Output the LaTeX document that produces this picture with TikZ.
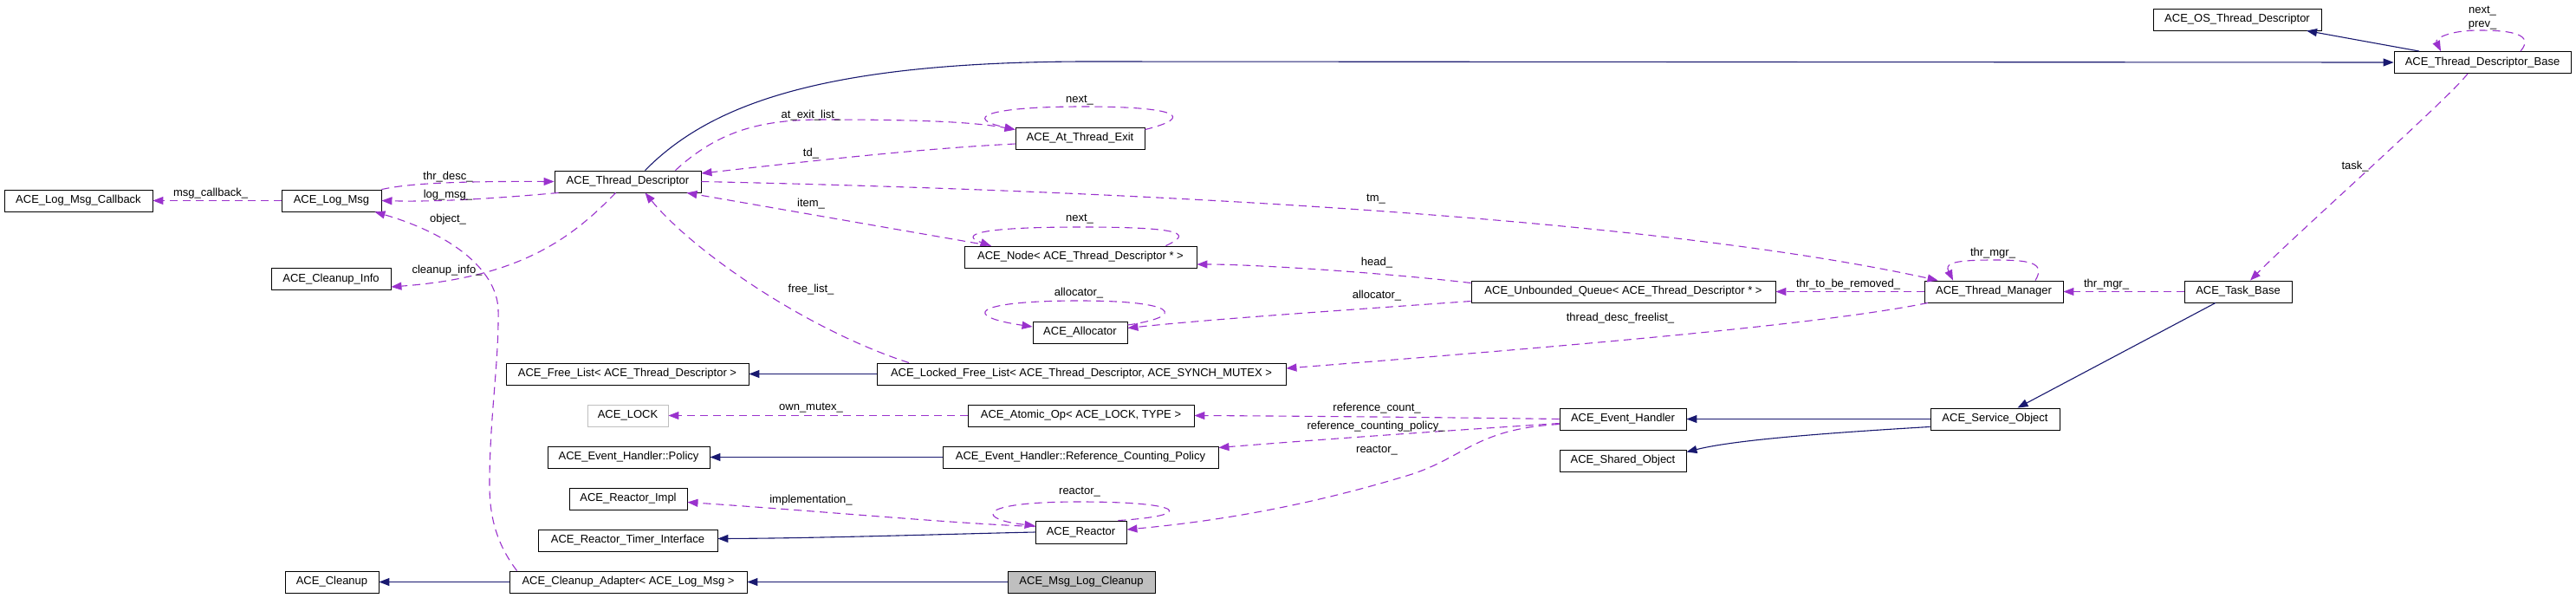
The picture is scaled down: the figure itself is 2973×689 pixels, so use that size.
\documentclass[tikz,border=0pt]{standalone}
\usepackage{fontspec}
\setmainfont{Liberation Sans}
\usetikzlibrary{arrows.meta}
\definecolor{usecol}{RGB}{154,50,205}
\definecolor{inhcol}{RGB}{25,25,112}
\definecolor{grayc}{RGB}{191,191,191}
\newcommand{\dfont}{\fontsize{13}{15}\selectfont}
\begin{document}
\begin{tikzpicture}[x=1pt,y=-1pt,
 cbox/.style={draw=black, line width=0.9pt, minimum height=25pt, inner sep=0pt, font=\dfont},
 lbl/.style={font=\dfont, inner sep=0pt},
 inher/.style={draw=inhcol, line width=1.1pt, -{Triangle[length=12pt,width=9pt]}},
 usage/.style={draw=usecol, line width=1.1pt, dash pattern=on 9pt off 6pt, -{Triangle[length=12pt,width=9pt]}},
]
\fill[white] (0,0) rectangle (2973,689);
\useasboundingbox (0,0) rectangle (2973,689);

% nodes
\node[cbox, minimum width=171pt] (cb) at (90.5,231.5) {ACE\_Log\_Msg\_Callback};
\node[cbox, minimum width=115pt] (lm) at (382.5,231.5) {ACE\_Log\_Msg};
\node[cbox, minimum width=138pt] (ci) at (382,322) {ACE\_Cleanup\_Info};
\node[cbox, minimum width=108pt] (cleanup) at (383,671.5) {ACE\_Cleanup};
\node[cbox, minimum width=169pt] (td) at (724.5,209.5) {ACE\_Thread\_Descriptor};
\node[cbox, minimum width=280pt] (fl) at (724,431.5) {ACE\_Free\_List< ACE\_Thread\_Descriptor >};
\node[cbox, minimum width=93pt, draw=grayc] (lock) at (724.5,479.5) {ACE\_LOCK};
\node[cbox, minimum width=187pt] (pol) at (725.5,527.5) {ACE\_Event\_Handler::Policy};
\node[cbox, minimum width=136pt] (rimpl) at (725,575.5) {ACE\_Reactor\_Impl};
\node[cbox, minimum width=207pt] (rti) at (724.5,623.5) {ACE\_Reactor\_Timer\_Interface};
\node[cbox, minimum width=274pt] (cadapt) at (725,671.5) {ACE\_Cleanup\_Adapter< ACE\_Log\_Msg >};
\node[cbox, minimum width=149pt] (ate) at (1246.5,159.5) {ACE\_At\_Thread\_Exit};
\node[cbox, minimum width=268pt] (node) at (1247,296.5) {ACE\_Node< ACE\_Thread\_Descriptor * >};
\node[cbox, minimum width=109pt] (alloc) at (1246.5,383.5) {ACE\_Allocator};
\node[cbox, minimum width=472pt] (lfl) at (1248,431.5) {ACE\_Locked\_Free\_List< ACE\_Thread\_Descriptor, ACE\_SYNCH\_MUTEX >};
\node[cbox, minimum width=261pt] (aop) at (1247.5,479.5) {ACE\_Atomic\_Op< ACE\_LOCK, TYPE >};
\node[cbox, minimum width=318pt] (rcp) at (1247,527.5) {ACE\_Event\_Handler::Reference\_Counting\_Policy};
\node[cbox, minimum width=105pt, minimum height=26pt] (reactor) at (1247.5,614) {ACE\_Reactor};
\node[cbox, minimum width=170pt, fill=grayc] (mlc) at (1248,671.5) {ACE\_Msg\_Log\_Cleanup};
\node[cbox, minimum width=351pt] (uq) at (1873.5,336.5) {ACE\_Unbounded\_Queue< ACE\_Thread\_Descriptor * >};
\node[cbox, minimum width=146pt] (eh) at (1873,483.5) {ACE\_Event\_Handler};
\node[cbox, minimum width=146pt] (shared) at (1873,531.5) {ACE\_Shared\_Object};
\node[cbox, minimum width=160pt] (tm) at (2301,336.5) {ACE\_Thread\_Manager};
\node[cbox, minimum width=149pt] (svc) at (2302.5,483.5) {ACE\_Service\_Object};
\node[cbox, minimum width=124pt] (tb) at (2583,336.5) {ACE\_Task\_Base};
\node[cbox, minimum width=194pt] (ostd) at (2582,22.5) {ACE\_OS\_Thread\_Descriptor};
\node[cbox, minimum width=204pt] (tdb) at (2865,72) {ACE\_Thread\_Descriptor\_Base};

% inheritance
\draw[inher] (mlc.west) -- (cadapt.east);
\draw[inher] (cadapt.west) -- (cleanup.east);
\draw[inher] (reactor.west) .. controls (1100,616) and (950,621) .. ([yshift=2pt]rti.east);
\draw[inher] (rcp.west) -- (pol.east);
\draw[inher] (lfl.west) -- (fl.east);
\draw[inher] (svc.west) -- (eh.east);
\draw[inher] ([yshift=4pt]svc.south west) .. controls (2100,500) and (2000,508) .. ([yshift=10pt]shared.east);
\draw[inher] ([xshift=-26pt]tb.south) -- ([xshift=26pt]svc.north);
\draw[inher] ([xshift=20pt]td.north) .. controls (820,120) and (950,72) .. (1250,71) -- (tdb.west);
\draw[inher] ([xshift=-73pt]tdb.north) -- ([xshift=80pt]ostd.south);

% usage
\draw[usage] (lm.west) -- (cb.east);
\node[lbl] (l-msgcb) at (243,223) {msg\_callback\_};
\draw[usage] ([xshift=5pt]td.south west) .. controls (560,230) and (500,233) .. (lm.east);
\node[lbl] (l-logmsg) at (517,225) {log\_msg\_};
\draw[usage] (lm.north east) .. controls (470,212) and (520,209) .. (td.west);
\node[lbl] (l-thrdesc) at (517,204) {thr\_desc\_};
\draw[usage] ([xshift=9pt]cadapt.north west) .. controls (575,630) and (565,600) .. (565,560)
  .. controls (565,480) and (576,420) .. (575,356) .. controls (572,310) and (520,270) .. ([xshift=-8pt]lm.south east);
\node[lbl] (l-object) at (517,253) {object\_};
\draw[usage] ([xshift=-14pt]td.south) .. controls (660,275) and (600,320) .. ([yshift=-9pt]ci.east);
\node[lbl] (l-cinfo) at (516,312) {cleanup\_info\_};
\draw[usage] ([xshift=-199pt]lfl.north) .. controls (930,380) and (800,290) .. ([xshift=20pt]td.south);
\node[lbl] (l-freelist) at (936,334) {free\_list\_};
\draw[usage] ([yshift=-6.5pt]ate.west) .. controls (1050,172) and (900,190) .. ([yshift=9.5pt]td.east);
\node[lbl] (l-td) at (936,177) {td\_};
\draw[usage] ([xshift=55pt]td.north) .. controls (830,150) and (880,138) .. (950,138)
  .. controls (1050,138) and (1120,140) .. ([yshift=-3pt]ate.north west);
\node[lbl] (l-atexit) at (936,133) {at\_exit\_list\_};
\draw[usage] ([yshift=-3pt]ate.north east) .. controls (1380,135) and (1360,123) .. (1250,123)
  .. controls (1140,123) and (1110,136) .. ([yshift=-3pt]ate.north west);
\node[lbl] (l-atenext) at (1246,116) {next\_};
\draw[usage] ([xshift=31pt]node.north west) -- ([xshift=-17pt]td.south east);
\node[lbl] (l-item) at (936,235) {item\_};
\draw[usage] ([xshift=-36pt]node.north east) .. controls (1375,270) and (1370,262) .. (1247,262)
  .. controls (1120,262) and (1110,272) .. ([xshift=31pt]node.north west);
\node[lbl] (l-nodenext) at (1246,253) {next\_};
\draw[usage] ([yshift=10pt]uq.west) .. controls (1600,315) and (1450,305) .. ([yshift=-8.5pt]node.east);
\node[lbl] (l-head) at (1589,303) {head\_};
\draw[usage] ([yshift=-11pt]uq.west) .. controls (1550,358) and (1400,368) .. ([yshift=5pt]alloc.east);
\node[lbl] (l-uqalloc) at (1589,341) {allocator\_};
\draw[usage] ([yshift=8.5pt]alloc.east) .. controls (1370,365) and (1360,347) .. (1246,347)
  .. controls (1120,347) and (1110,365) .. ([yshift=6.5pt]alloc.west);
\node[lbl] (l-allocself) at (1245,338) {allocator\_};
\draw[usage] (tm.west) -- (uq.east);
\node[lbl] (l-thrtbr) at (2133,328) {thr\_to\_be\_removed\_};
\draw[usage] ([xshift=48pt]tm.north) .. controls (2362,302) and (2340,300) .. (2300,300)
  .. controls (2250,300) and (2245,305) .. ([xshift=-47pt]tm.north);
\node[lbl] (l-tmself) at (2300,292) {thr\_mgr\_};
\draw[usage] (tb.west) -- (tm.east);
\node[lbl] (l-tbtm) at (2431,328) {thr\_mgr\_};
\draw[usage] (td.east) .. controls (1300,220) and (1900,250) .. ([xshift=16pt]tm.north west);
\node[lbl] (l-tm) at (1588,230) {tm\_};
\draw[usage] ([xshift=-76pt]tm.south) .. controls (2100,375) and (1800,400) .. ([yshift=6.5pt]lfl.east);
\node[lbl] (l-tdfree) at (1870,367) {thread\_desc\_freelist\_};
\draw[usage] ([xshift=-17pt]tdb.south) .. controls (2830,110) and (2650,270) .. ([xshift=14pt]tb.north);
\node[lbl] (l-task) at (2718,192) {task\_};
\draw[usage] ([xshift=44pt]tdb.north) .. controls (2925,40) and (2900,35) .. (2862,35)
  .. controls (2825,35) and (2810,45) .. ([xshift=-48pt]tdb.north);
\node[lbl] (l-next) at (2865,13) {next\_};
\node[lbl] (l-prev) at (2865,29) {prev\_};
\draw[usage] (aop.west) -- (lock.east);
\node[lbl] (l-own) at (936,471) {own\_mutex\_};
\draw[usage] (eh.west) .. controls (1700,482) and (1500,480) .. (aop.east);
\node[lbl] (l-refc) at (1589,471) {reference\_count\_};
\draw[usage] ([yshift=-5pt]eh.west) .. controls (1700,495) and (1550,505) .. ([yshift=11pt]rcp.east);
\node[lbl] (l-refcp) at (1588,492) {reference\_counting\_policy\_};
\draw[usage] ([yshift=-6pt]eh.west) .. controls (1700,495) and (1690,530) .. (1620,550)
  .. controls (1520,580) and (1420,600) .. ([yshift=3pt]reactor.east);
\node[lbl] (l-ehreactor) at (1589,520) {reactor\_};
\draw[usage] ([xshift=-10pt]reactor.north east) .. controls (1380,595) and (1370,579) .. (1246,579)
  .. controls (1120,579) and (1130,600) .. ([yshift=-6pt]reactor.north west);
\node[lbl] (l-reactself) at (1246,568) {reactor\_};
\draw[usage] ([yshift=-7pt]reactor.north west) .. controls (1100,604) and (950,590) .. ([yshift=-4pt]rimpl.east);
\node[lbl] (l-impl) at (936,577) {implementation\_};
\end{tikzpicture}
\end{document}
